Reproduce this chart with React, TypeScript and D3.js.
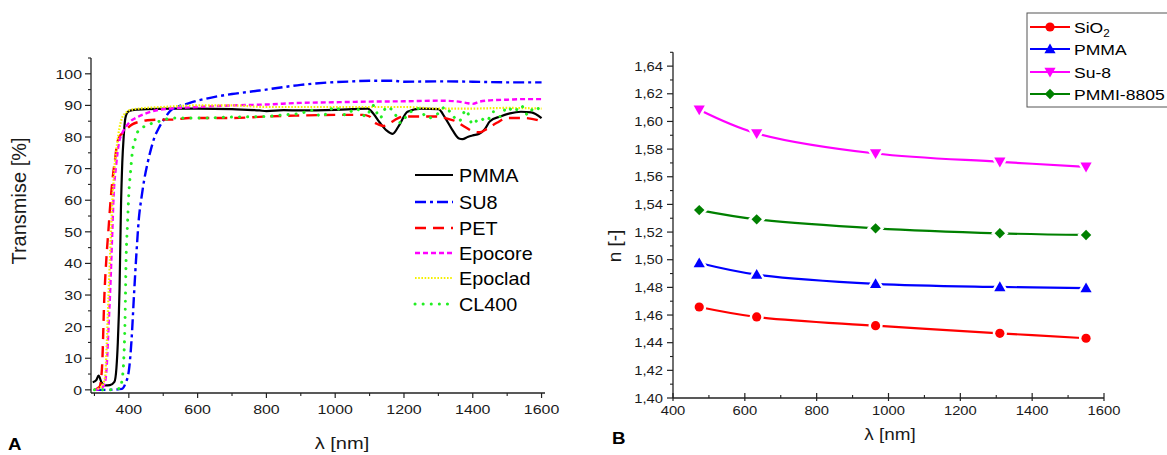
import React from "react";
import * as d3 from "d3";

// ---------- Panel A data: transmission spectra ----------
const pmmaWl = [295, 305, 312, 320, 331, 345, 358, 364, 368, 373, 377, 381, 385, 390, 398, 410, 450, 520, 600, 700, 780, 800, 850, 900, 1000, 1050, 1095, 1110, 1130, 1150, 1167, 1185, 1210, 1250, 1300, 1320, 1342, 1360, 1370, 1385, 1400, 1419, 1435, 1450, 1480, 1508, 1540, 1570, 1600];
const pmmaT = [2.4, 3.0, 4.5, 2.5, 1.4, 1.5, 2.5, 7, 15, 32, 57, 72, 80, 86, 88, 88.5, 88.8, 89, 89, 88.8, 88.4, 88.2, 88.5, 88.4, 88.6, 88.8, 89, 87.5, 84.5, 82, 81, 83.5, 88, 89, 88.8, 86, 82, 79.5, 79.3, 80, 80.5, 81, 82.5, 85, 86.5, 87.5, 88, 87.8, 86];

const su8Wl = [300, 340, 380, 390, 400, 408, 415, 422, 429, 437, 444, 455, 464, 475, 488, 505, 518, 540, 560, 600, 650, 700, 780, 850, 900, 975, 1050, 1100, 1167, 1200, 1300, 1400, 1500, 1600];
const su8T = [0, 0, 0.3, 2, 6, 16, 30, 43, 54, 61, 66, 72, 76, 80, 83, 86, 88, 89.5, 90.2, 91.5, 92.7, 93.6, 94.7, 95.8, 96.5, 97.2, 97.6, 97.8, 97.8, 97.5, 97.6, 97.5, 97.3, 97.3];

const petWl = [300, 315, 322, 329, 335, 341, 347, 353, 360, 366, 375, 385, 398, 410, 430, 454, 500, 527, 576, 650, 700, 800, 900, 1000, 1080, 1100, 1110, 1125, 1140, 1160, 1180, 1200, 1250, 1300, 1320, 1350, 1380, 1400, 1420, 1440, 1470, 1500, 1550, 1600];
const petT = [0, 1, 7, 30, 42, 51, 60, 67, 73, 78, 80.5, 81.5, 83, 84, 84.8, 85.3, 85.5, 85.5, 86, 86, 86, 86.5, 86.8, 87, 87, 86.5, 85, 84, 83.5, 84.5, 85.8, 86.5, 86.5, 86.5, 86, 85, 83, 81.8, 81.5, 82.5, 84.5, 86, 86, 85];

const epocoreWl = [300, 320, 330, 336, 341, 346, 351, 356, 363, 371, 380, 390, 405, 420, 450, 478, 520, 600, 700, 800, 900, 1000, 1100, 1200, 1300, 1350, 1380, 1400, 1420, 1450, 1500, 1550, 1600];
const epocoreT = [0, 0.5, 2, 8, 20, 32, 47, 62, 71, 78, 81, 83, 85, 86, 87.5, 88.4, 89, 89.5, 90, 90.3, 90.8, 91, 91.2, 91.3, 91.5, 91.3, 90.8, 90.5, 91.2, 91.6, 91.8, 92, 92];

const epocladWl = [300, 320, 331, 336, 341, 346, 351, 358, 366, 373, 380, 390, 400, 430, 500, 600, 700, 800, 900, 1000, 1100, 1200, 1300, 1400, 1500, 1600];
const epocladT = [0, 1, 4, 15, 30, 44, 57, 70, 78, 83, 86, 87.5, 88.4, 89, 89.5, 90, 90, 89.5, 89.5, 89.5, 89.5, 89.5, 89, 89, 89.2, 89];

const cl400Wl = [300, 340, 375, 380, 385, 389, 392, 396, 400, 405, 410, 418, 425, 440, 459, 490, 527, 600, 700, 800, 850, 900, 930, 960, 1000, 1030, 1060, 1090, 1110, 1130, 1150, 1170, 1190, 1210, 1240, 1270, 1300, 1320, 1340, 1360, 1380, 1400, 1420, 1440, 1460, 1480, 1500, 1520, 1540, 1560, 1580, 1600];
const cl400T = [0, 0, 0.5, 3, 9, 22, 41, 52, 62, 69, 75, 79, 81.5, 83, 84, 85, 86, 86, 86.3, 86.5, 87, 87.5, 88.5, 86.5, 89.5, 87, 89, 86.5, 90, 86, 89.5, 88, 84.5, 87, 89, 86, 87.5, 89.5, 87, 85, 88.5, 84, 86, 85, 88, 86.5, 89.5, 88, 90, 87, 89.5, 88];

const transLegend = ["PMMA", "SU8", "PET", "Epocore", "Epoclad", "CL400"];
const transTicksMajor = [0, 10, 20, 30, 40, 50, 60, 70, 80, 90, 100];
const transTicksMinor = [5, 15, 25, 35, 45, 55, 65, 75, 85, 95, 105];
const wlTicksMajor = [400, 600, 800, 1000, 1200, 1400, 1600];
const wlTicksMinorA = [300, 500, 700, 900, 1100, 1300, 1500];

// ---------- Panel B data: refractive index ----------
const riWl = [473, 633, 964, 1310, 1550];
const sio2N = [1.4658, 1.4586, 1.4523, 1.4468, 1.4432];
const pmmaN = [1.4976, 1.4892, 1.4826, 1.4803, 1.4795];
const su8N = [1.6085, 1.5914, 1.5768, 1.5708, 1.5672];
const pmmiN = [1.5359, 1.5292, 1.5227, 1.5191, 1.5179];
const riLegend = ["SiO", "PMMA", "Su-8", "PMMI-8805"];
const nTicksMajor = [1.40, 1.42, 1.44, 1.46, 1.48, 1.50, 1.52, 1.54, 1.56, 1.58, 1.60, 1.62, 1.64];
const nTicksMinor = [1.41, 1.43, 1.45, 1.47, 1.49, 1.51, 1.53, 1.55, 1.57, 1.59, 1.61, 1.63, 1.65];
const wlTicksMinorB = [500, 700, 900, 1100, 1300, 1500];

const FONT = "'Liberation Sans', Arial, Helvetica, sans-serif";
const SX = 1.18;

type TxtProps = { x: number; y: number; size: number; anchor?: string; sx?: number; weight?: string | number; children: React.ReactNode; fill?: string };
const Txt = ({ x, y, size, anchor = "start", sx = SX, weight = "normal", children, fill = "#1a1a1a" }: TxtProps) => (
  <g transform={`translate(${x},${y}) scale(${sx},1)`}>
    <text x={0} y={0} fontSize={size} fontFamily={FONT} textAnchor={anchor as any} fontWeight={weight as any} fill={fill}>
      {children}
    </text>
  </g>
);

// styles for transmission series
const transStyles = [
  { color: "#000000", width: 2.2, dash: "none", cap: "butt" },
  { color: "#0000ff", width: 2.4, dash: "11 4 3 4", cap: "butt" },
  { color: "#ff0000", width: 2.4, dash: "11 7", cap: "butt" },
  { color: "#ff00ff", width: 2.4, dash: "5 3", cap: "butt" },
  { color: "#f4f000", width: 2.2, dash: "1.6 1.6", cap: "butt" },
  { color: "#22ee22", width: 3, dash: "0.1 8", cap: "round" },
];

const riColors = ["#ff0000", "#0000ff", "#ff00ff", "#008000"];

function Marker({ kind, x, y, color, halo }: { kind: number; x: number; y: number; color: string; halo?: boolean }) {
  const fill = halo ? "#ffffff" : color;
  const stroke = halo ? "#ffffff" : "none";
  const sw = halo ? 5 : 0;
  if (kind === 0) return <circle cx={x} cy={y} r={4.6} fill={fill} stroke={stroke} strokeWidth={sw} />;
  if (kind === 1) {
    const s = 5.6;
    return <path d={`M${x},${y - s} L${x + s},${y + s * 0.75} L${x - s},${y + s * 0.75} Z`} fill={fill} stroke={stroke} strokeWidth={sw} />;
  }
  if (kind === 2) {
    const s = 5.6;
    return <path d={`M${x},${y + s} L${x + s},${y - s * 0.75} L${x - s},${y - s * 0.75} Z`} fill={fill} stroke={stroke} strokeWidth={sw} />;
  }
  const s = 5.2;
  return <path d={`M${x},${y - s} L${x + s},${y} L${x},${y + s} L${x - s},${y} Z`} fill={fill} stroke={stroke} strokeWidth={sw} />;
}

export default function App() {
  // Panel A scales
  const xA = d3.scaleLinear().domain([290, 1610]).range([91, 545]);
  const yA = d3.scaleLinear().domain([-1, 105]).range([393, 58]);
  const transSeries = [
    [pmmaWl, pmmaT],
    [su8Wl, su8T],
    [petWl, petT],
    [epocoreWl, epocoreT],
    [epocladWl, epocladT],
    [cl400Wl, cl400T],
  ];
  const lineA = d3
    .line<[number, number]>()
    .x((d) => xA(d[0]))
    .y((d) => yA(d[1]))
    .curve(d3.curveMonotoneX);

  // Panel B scales
  const xB = d3.scaleLinear().domain([400, 1600]).range([673, 1104]);
  const yB = d3.scaleLinear().domain([1.40, 1.65]).range([398, 52.3]);
  const riSeries = [sio2N, pmmaN, su8N, pmmiN];
  const lineB = d3
    .line<[number, number]>()
    .x((d) => xB(d[0]))
    .y((d) => yB(d[1]))
    .curve(d3.curveCatmullRom.alpha(0.5));

  const axisColor = "#222";
  const legendAY = [175, 202, 228, 253, 278, 304];
  const legendBY = [27, 49, 72, 94];

  return (
    <svg width={1167} height={455} style={{ position: "absolute", left: 0, top: 0, background: "#fff" }}>
      <rect x={0} y={0} width={1167} height={455} fill="#fff" />
      <defs>
        <clipPath id="clipA">
          <rect x={92} y={40} width={460} height={352} />
        </clipPath>
      </defs>

      {/* ---------- Panel A ---------- */}
      <g clipPath="url(#clipA)">
        {transSeries.map((s, i) => {
          const pts = (s[0] as number[]).map((w, k) => [w, (s[1] as number[])[k]] as [number, number]);
          const st = transStyles[i];
          return (
            <path
              key={i}
              d={lineA(pts) || ""}
              fill="none"
              stroke={st.color}
              strokeWidth={st.width}
              strokeDasharray={st.dash}
              strokeLinecap={st.cap as any}
              strokeLinejoin="round"
            />
          );
        })}
      </g>
      {/* axes A */}
      <line x1={91} x2={91} y1={yA(105)} y2={393} stroke={axisColor} strokeWidth={1.3} />
      <line x1={91} x2={545} y1={393} y2={393} stroke={axisColor} strokeWidth={1.3} />
      {transTicksMajor.map((t) => (
        <g key={"ya" + t}>
          <line x1={85} x2={91} y1={yA(t)} y2={yA(t)} stroke={axisColor} strokeWidth={1.2} />
          <Txt x={82} y={yA(t) + 5} size={13.5} anchor="end">{t}</Txt>
        </g>
      ))}
      {transTicksMinor.map((t) => (
        <line key={"yam" + t} x1={88} x2={91} y1={yA(t)} y2={yA(t)} stroke={axisColor} strokeWidth={1.1} />
      ))}
      {wlTicksMajor.map((t) => (
        <g key={"xa" + t}>
          <line x1={xA(t)} x2={xA(t)} y1={393} y2={398} stroke={axisColor} strokeWidth={1.2} />
          <Txt x={xA(t)} y={414} size={13.5} anchor="middle">{t}</Txt>
        </g>
      ))}
      {wlTicksMinorA.map((t) => (
        <line key={"xam" + t} x1={xA(t)} x2={xA(t)} y1={393} y2={396} stroke={axisColor} strokeWidth={1.1} />
      ))}
      <Txt x={342} y={449} size={17} anchor="middle">λ [nm]</Txt>
      <g transform="translate(26,201) rotate(-90) scale(1,1)">
        <text x={0} y={0} fontSize={20} fontFamily={FONT} textAnchor="middle" fill="#1a1a1a">Transmise [%]</text>
      </g>
      <Txt x={8} y={450} size={17} weight="bold" sx={1.1} fill="#000">A</Txt>

      {/* legend A */}
      {transLegend.map((name, i) => {
        const st = transStyles[i];
        return (
          <g key={name}>
            <line
              x1={415}
              x2={453}
              y1={legendAY[i]}
              y2={legendAY[i]}
              stroke={st.color}
              strokeWidth={st.width}
              strokeDasharray={st.dash}
              strokeLinecap={st.cap as any}
            />
            <Txt x={459} y={legendAY[i] + 6.5} size={18} sx={1.1} fill="#000">{name}</Txt>
          </g>
        );
      })}

      {/* ---------- Panel B ---------- */}
      {riSeries.map((vals, i) => {
        const pts = riWl.map((w, k) => [w, vals[k]] as [number, number]);
        return (
          <g key={"ri" + i}>
            <path d={lineB(pts) || ""} fill="none" stroke={riColors[i]} strokeWidth={2.2} />
            {pts.map((p, k) => (
              <Marker key={"h" + k} kind={i} x={xB(p[0])} y={yB(p[1])} color={riColors[i]} halo />
            ))}
            {pts.map((p, k) => (
              <Marker key={"m" + k} kind={i} x={xB(p[0])} y={yB(p[1])} color={riColors[i]} />
            ))}
          </g>
        );
      })}
      {/* axes B */}
      <line x1={673} x2={673} y1={yB(1.65)} y2={398} stroke={axisColor} strokeWidth={1.3} />
      <line x1={673} x2={1104} y1={398} y2={398} stroke={axisColor} strokeWidth={1.3} />
      {nTicksMajor.map((t) => (
        <g key={"yb" + t}>
          <line x1={667} x2={673} y1={yB(t)} y2={yB(t)} stroke={axisColor} strokeWidth={1.2} />
          <Txt x={663} y={yB(t) + 4.5} size={12.5} anchor="end">{d3.format(".2f")(t).replace(".", ",")}</Txt>
        </g>
      ))}
      {nTicksMinor.map((t) => (
        <line key={"ybm" + t} x1={670} x2={673} y1={yB(t)} y2={yB(t)} stroke={axisColor} strokeWidth={1.1} />
      ))}
      {wlTicksMajor.map((t) => (
        <g key={"xb" + t}>
          <line x1={xB(t)} x2={xB(t)} y1={393} y2={401} stroke={axisColor} strokeWidth={1.2} />
          <Txt x={xB(t)} y={415} size={12.5} anchor="middle">{t}</Txt>
        </g>
      ))}
      {wlTicksMinorB.map((t) => (
        <line key={"xbm" + t} x1={xB(t)} x2={xB(t)} y1={395} y2={398} stroke={axisColor} strokeWidth={1.1} />
      ))}
      <Txt x={890} y={440} size={16} anchor="middle">λ [nm]</Txt>
      <g transform="translate(621,246) rotate(-90)">
        <text x={0} y={0} fontSize={19} fontFamily={FONT} textAnchor="middle" fill="#1a1a1a">n [-]</text>
      </g>
      <Txt x={612} y={444} size={17} weight="bold" sx={1.1} fill="#000">B</Txt>

      {/* legend B */}
      <rect x={1027} y={13} width={150} height={94} fill="#fff" stroke="#555" strokeWidth={1} />
      {riLegend.map((name, i) => (
        <g key={name}>
          <line x1={1030} x2={1070} y1={legendBY[i]} y2={legendBY[i]} stroke={riColors[i]} strokeWidth={2.2} />
          <Marker kind={i} x={1050} y={legendBY[i]} color={riColors[i]} />
          <g transform={`translate(1074,${legendBY[i] + 5.5}) scale(1.17,1)`}>
            <text x={0} y={0} fontSize={15} fontFamily={FONT} fill="#000">
              {name}
              {i === 0 ? (
                <tspan fontSize={10} dy={4}>2</tspan>
              ) : null}
            </text>
          </g>
        </g>
      ))}
    </svg>
  );
}
